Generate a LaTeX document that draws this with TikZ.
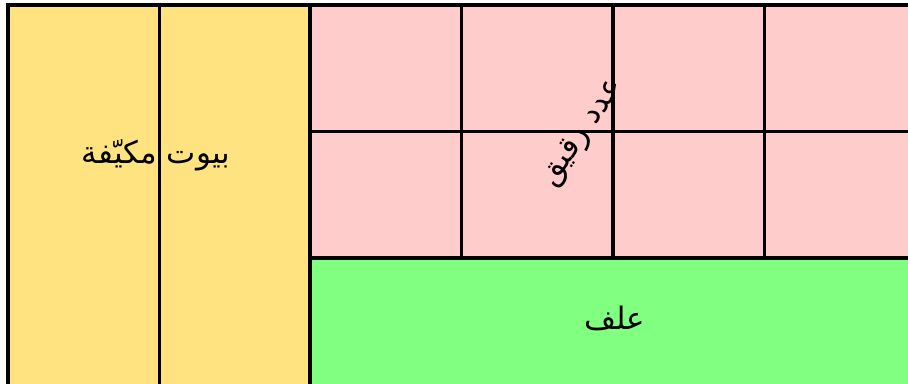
\documentclass[tikz,border=0pt]{standalone}
\usepackage{fontspec}
\TeXXeTstate=1
\newfontfamily\arabicfont[Script=Arabic]{DejaVu Sans}
\definecolor{housefill}{HTML}{FFE380}
\definecolor{birdfill}{HTML}{FFCCCC}
\definecolor{feedfill}{HTML}{80FF80}
\tikzset{areatext/.style={font=\arabicfont\fontsize{22}{26}\selectfont, inner sep=0pt}}

\begin{document}
\begin{tikzpicture}[x=0.025cm, y=-0.025cm, line width=2.6pt]
	\def\cellw{151.5}
	\def\cellh{126.5}

	\useasboundingbox (0,0) rectangle (908,383);
	\clip (0,0) rectangle (908,383);

	% air-conditioned houses
	\filldraw[fill=housefill] (8,5) rectangle (8 + \cellw, 400);
	\filldraw[fill=housefill] (8 + \cellw,5) rectangle (8 + 2 * \cellw, 400);
	\node[areatext] (houses) at (156,155) {\beginR بيوت مكيّفة\endR};

	% pink grid
	\filldraw[fill=birdfill] (310,5) rectangle (310 + \cellw, 5 + \cellh);
	\filldraw[fill=birdfill] (310 + \cellw,5) rectangle (310 + 2 * \cellw, 5 + \cellh);
	\filldraw[fill=birdfill] (310 + 2 * \cellw,5) rectangle (310 + 3 * \cellw, 5 + \cellh);
	\filldraw[fill=birdfill] (310 + 3 * \cellw,5) rectangle (310 + 4 * \cellw, 5 + \cellh);
	\filldraw[fill=birdfill] (310,5 + \cellh) rectangle (310 + \cellw, 5 + 2 * \cellh);
	\filldraw[fill=birdfill] (310 + \cellw,5 + \cellh) rectangle (310 + 2 * \cellw, 5 + 2 * \cellh);
	\filldraw[fill=birdfill] (310 + 2 * \cellw,5 + \cellh) rectangle (310 + 3 * \cellw, 5 + 2 * \cellh);
	\filldraw[fill=birdfill] (310 + 3 * \cellw,5 + \cellh) rectangle (310 + 4 * \cellw, 5 + 2 * \cellh);
	\node[areatext, rotate=56] (birds) at (583,133) {\beginR عدد رقيق\endR};

	% feed
	\filldraw[fill=feedfill] (310,5 + 2 * \cellh) rectangle (310 + 4 * \cellw, 400);
	\node[areatext] (feed) at (615,318) {\beginR علف\endR};
\end{tikzpicture}
\end{document}
